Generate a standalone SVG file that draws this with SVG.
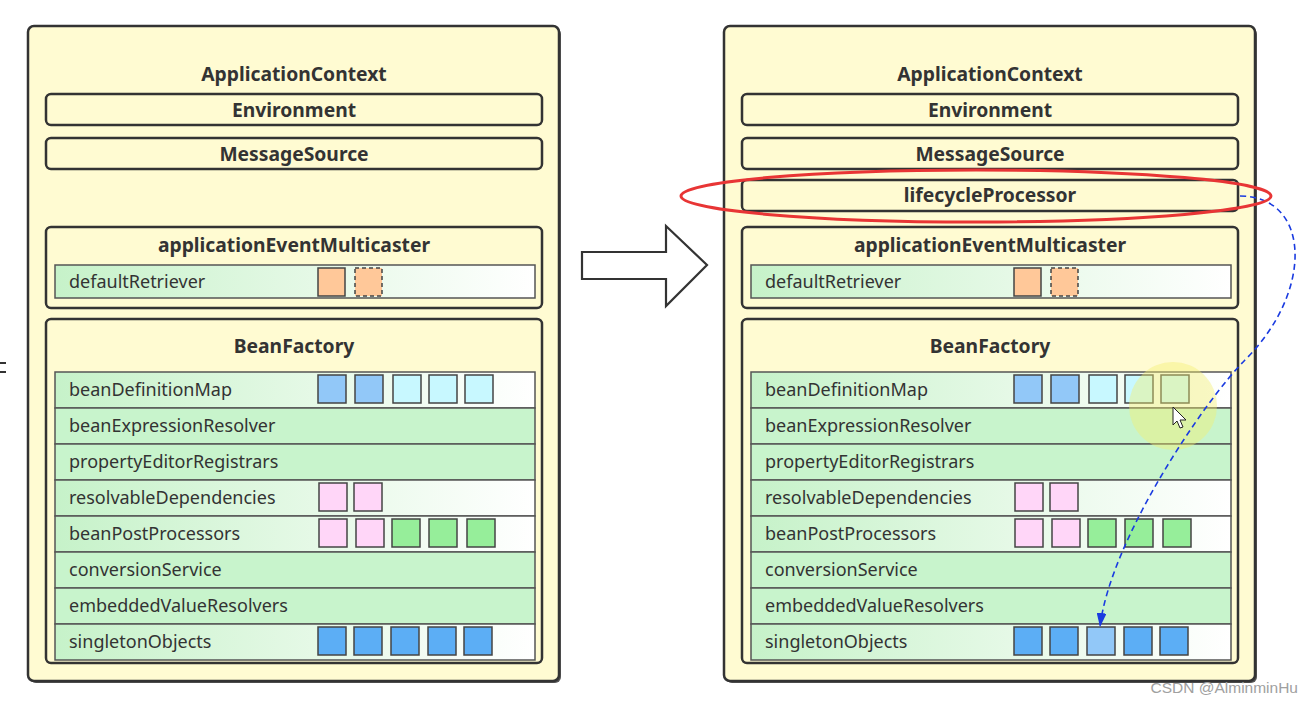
<svg xmlns="http://www.w3.org/2000/svg" width="1313" height="702" viewBox="0 0 1313 702">
<style>
.outer{fill:#fffbd2;stroke:#333;stroke-width:2.5}
.box{fill:#fffbd2;stroke:#333;stroke-width:2.5}
.title{font-family:"Noto Sans","Open Sans",sans-serif;font-weight:bold;font-size:19.3px;fill:#333;text-anchor:middle}
.lbl{font-family:"Noto Sans","Open Sans",sans-serif;font-size:18px;fill:#333}
.rowg{fill:url(#grad);stroke:#555;stroke-width:1.5}
.rows{fill:#c8f4cc;stroke:#555;stroke-width:1.5}
.sq{stroke:#444;stroke-width:1.5}
.lb{fill:#92c8f8}.cy{fill:#c8f8ff}.pk{fill:#ffd6f8}.gr{fill:#96ee9a}.bl{fill:#5caef5}.or{fill:#ffc899}
.dash{stroke-dasharray:4 3}
.shadow{fill:#555}
</style>
<defs>
<linearGradient id="grad" x1="0" y1="0" x2="1" y2="0">
<stop offset="0" stop-color="#c6f2c9"/>
<stop offset="0.55" stop-color="#e6f9e7"/>
<stop offset="1" stop-color="#ffffff"/>
</linearGradient>
<marker id="ah" viewBox="0 0 14 10" refX="14" refY="5" markerWidth="14" markerHeight="10" markerUnits="userSpaceOnUse" orient="auto">
<path d="M0,0 L14,5 L0,10 Z" fill="#1a3be0"/>
</marker>
</defs>
<rect width="1313" height="702" fill="#ffffff"/>
<g id="edge-mark"><rect x="0" y="362" width="6" height="2" fill="#333"/><rect x="0" y="371" width="6" height="2" fill="#333"/></g>

<!-- LEFT PANEL -->
<g id="left-applicationContext">
<rect x="30" y="28" width="531" height="655" rx="6" class="shadow"/>
<rect x="28" y="26" width="531" height="655" rx="6" class="outer"/>
<text x="294" y="81" class="title">ApplicationContext</text>
</g>
<g id="left-environment"><rect x="46" y="94" width="496" height="31" rx="5" class="box"/><text x="294" y="116.5" class="title">Environment</text></g>
<g id="left-messageSource"><rect x="46" y="138" width="496" height="31" rx="5" class="box"/><text x="294" y="160.5" class="title">MessageSource</text></g>
<g id="left-applicationEventMulticaster">
<rect x="46" y="227" width="496" height="81" rx="5" class="box"/>
<text x="294" y="252" class="title">applicationEventMulticaster</text>
<rect x="55" y="265" width="480" height="33" class="rowg"/>
<text x="69" y="288" class="lbl">defaultRetriever</text>
<rect x="318" y="268" width="27" height="28" class="sq or"/>
<rect x="355" y="268" width="27" height="28" class="sq or dash"/>
</g>
<g id="left-beanFactory">
<rect x="46" y="319" width="496" height="344" rx="5" class="box"/>
<text x="294" y="353" class="title">BeanFactory</text>
<rect x="55" y="372" width="480" height="36" class="rowg"/><text x="69" y="396" class="lbl">beanDefinitionMap</text>
<rect x="55" y="408" width="480" height="36" class="rows"/><text x="69" y="432" class="lbl">beanExpressionResolver</text>
<rect x="55" y="444" width="480" height="36" class="rows"/><text x="69" y="468" class="lbl">propertyEditorRegistrars</text>
<rect x="55" y="480" width="480" height="36" class="rowg"/><text x="69" y="504" class="lbl">resolvableDependencies</text>
<rect x="55" y="516" width="480" height="36" class="rowg"/><text x="69" y="540" class="lbl">beanPostProcessors</text>
<rect x="55" y="552" width="480" height="36" class="rows"/><text x="69" y="576" class="lbl">conversionService</text>
<rect x="55" y="588" width="480" height="36" class="rows"/><text x="69" y="612" class="lbl">embeddedValueResolvers</text>
<rect x="55" y="624" width="480" height="36" class="rowg"/><text x="69" y="648" class="lbl">singletonObjects</text>
<rect x="318" y="375" width="28" height="28" class="sq lb"/><rect x="355" y="375" width="28" height="28" class="sq lb"/><rect x="393" y="375" width="28" height="28" class="sq cy"/><rect x="429" y="375" width="28" height="28" class="sq cy"/><rect x="465" y="375" width="28" height="28" class="sq cy"/>
<rect x="319" y="483" width="28" height="28" class="sq pk"/><rect x="354" y="483" width="28" height="28" class="sq pk"/>
<rect x="319" y="519" width="28" height="28" class="sq pk"/><rect x="356" y="519" width="28" height="28" class="sq pk"/><rect x="392" y="519" width="28" height="28" class="sq gr"/><rect x="429" y="519" width="28" height="28" class="sq gr"/><rect x="467" y="519" width="28" height="28" class="sq gr"/>
<rect x="318" y="627" width="28" height="28" class="sq bl"/><rect x="354" y="627" width="28" height="28" class="sq bl"/><rect x="391" y="627" width="28" height="28" class="sq bl"/><rect x="428" y="627" width="28" height="28" class="sq bl"/><rect x="464" y="627" width="28" height="28" class="sq bl"/>
</g>

<g id="transition-arrow">
<path d="M582,252 L666,252 L666,226 L707,265 L666,306 L666,279 L582,279 Z" fill="#ffffff" stroke="#333" stroke-width="2.2" stroke-linejoin="miter"/>
</g>

<!-- RIGHT PANEL -->
<g id="right-applicationContext">
<rect x="726" y="28" width="531" height="655" rx="6" class="shadow"/>
<rect x="724" y="26" width="531" height="655" rx="6" class="outer"/>
<text x="990" y="81" class="title">ApplicationContext</text>
</g>
<g id="right-environment"><rect x="742" y="94" width="496" height="31" rx="5" class="box"/><text x="990" y="116.5" class="title">Environment</text></g>
<g id="right-messageSource"><rect x="742" y="138" width="496" height="31" rx="5" class="box"/><text x="990" y="160.5" class="title">MessageSource</text></g>
<g id="right-lifecycleProcessor"><rect x="742" y="180" width="496" height="31" rx="5" class="box"/><text x="990" y="202" class="title">lifecycleProcessor</text></g>
<g id="right-applicationEventMulticaster">
<rect x="742" y="227" width="496" height="81" rx="5" class="box"/>
<text x="990" y="252" class="title">applicationEventMulticaster</text>
<rect x="751" y="265" width="480" height="33" class="rowg"/>
<text x="765" y="288" class="lbl">defaultRetriever</text>
<rect x="1014" y="268" width="27" height="28" class="sq or"/>
<rect x="1051" y="268" width="27" height="28" class="sq or dash"/>
</g>
<g id="right-beanFactory">
<rect x="742" y="319" width="496" height="344" rx="5" class="box"/>
<text x="990" y="353" class="title">BeanFactory</text>
<rect x="751" y="372" width="480" height="36" class="rowg"/><text x="765" y="396" class="lbl">beanDefinitionMap</text>
<rect x="751" y="408" width="480" height="36" class="rows"/><text x="765" y="432" class="lbl">beanExpressionResolver</text>
<rect x="751" y="444" width="480" height="36" class="rows"/><text x="765" y="468" class="lbl">propertyEditorRegistrars</text>
<rect x="751" y="480" width="480" height="36" class="rowg"/><text x="765" y="504" class="lbl">resolvableDependencies</text>
<rect x="751" y="516" width="480" height="36" class="rowg"/><text x="765" y="540" class="lbl">beanPostProcessors</text>
<rect x="751" y="552" width="480" height="36" class="rows"/><text x="765" y="576" class="lbl">conversionService</text>
<rect x="751" y="588" width="480" height="36" class="rows"/><text x="765" y="612" class="lbl">embeddedValueResolvers</text>
<rect x="751" y="624" width="480" height="36" class="rowg"/><text x="765" y="648" class="lbl">singletonObjects</text>
<rect x="1014" y="375" width="28" height="28" class="sq lb"/><rect x="1051" y="375" width="28" height="28" class="sq lb"/><rect x="1089" y="375" width="28" height="28" class="sq cy"/><rect x="1125" y="375" width="28" height="28" class="sq cy"/><rect x="1161" y="375" width="28" height="28" class="sq cy"/>
<rect x="1015" y="483" width="28" height="28" class="sq pk"/><rect x="1050" y="483" width="28" height="28" class="sq pk"/>
<rect x="1015" y="519" width="28" height="28" class="sq pk"/><rect x="1052" y="519" width="28" height="28" class="sq pk"/><rect x="1088" y="519" width="28" height="28" class="sq gr"/><rect x="1125" y="519" width="28" height="28" class="sq gr"/><rect x="1163" y="519" width="28" height="28" class="sq gr"/>
<rect x="1014" y="627" width="28" height="28" class="sq bl"/><rect x="1050" y="627" width="28" height="28" class="sq bl"/><rect x="1087" y="627" width="28" height="28" class="sq lb"/><rect x="1124" y="627" width="28" height="28" class="sq bl"/><rect x="1160" y="627" width="28" height="28" class="sq bl"/>
</g>

<g id="cursor-highlight">
<circle cx="1173" cy="406" r="44" fill="#f2ee70" fill-opacity="0.42"/>
<path d="M1173,407 L1173,425 L1177,421 L1180,428 L1183,427 L1180,420 L1186,420 Z" fill="#ffffff" stroke="#222" stroke-width="1"/>
</g>

<g id="connectors">
<path d="M1240,196 C1310,196 1315,290 1245,360 C1205,400 1110,540 1100,627" fill="none" stroke="#1a3be0" stroke-width="1.6" stroke-dasharray="6 4" marker-end="url(#ah)"/>
</g>

<g id="highlight-ellipse">
<ellipse cx="976" cy="196" rx="295" ry="26" fill="none" stroke="#e83535" stroke-width="3"/>
</g>

<text x="1298" y="693" text-anchor="end" font-family="'Liberation Sans',Arial,sans-serif" font-size="15.5" fill="#a0a0a0">CSDN @AlminminHu</text>
</svg>
